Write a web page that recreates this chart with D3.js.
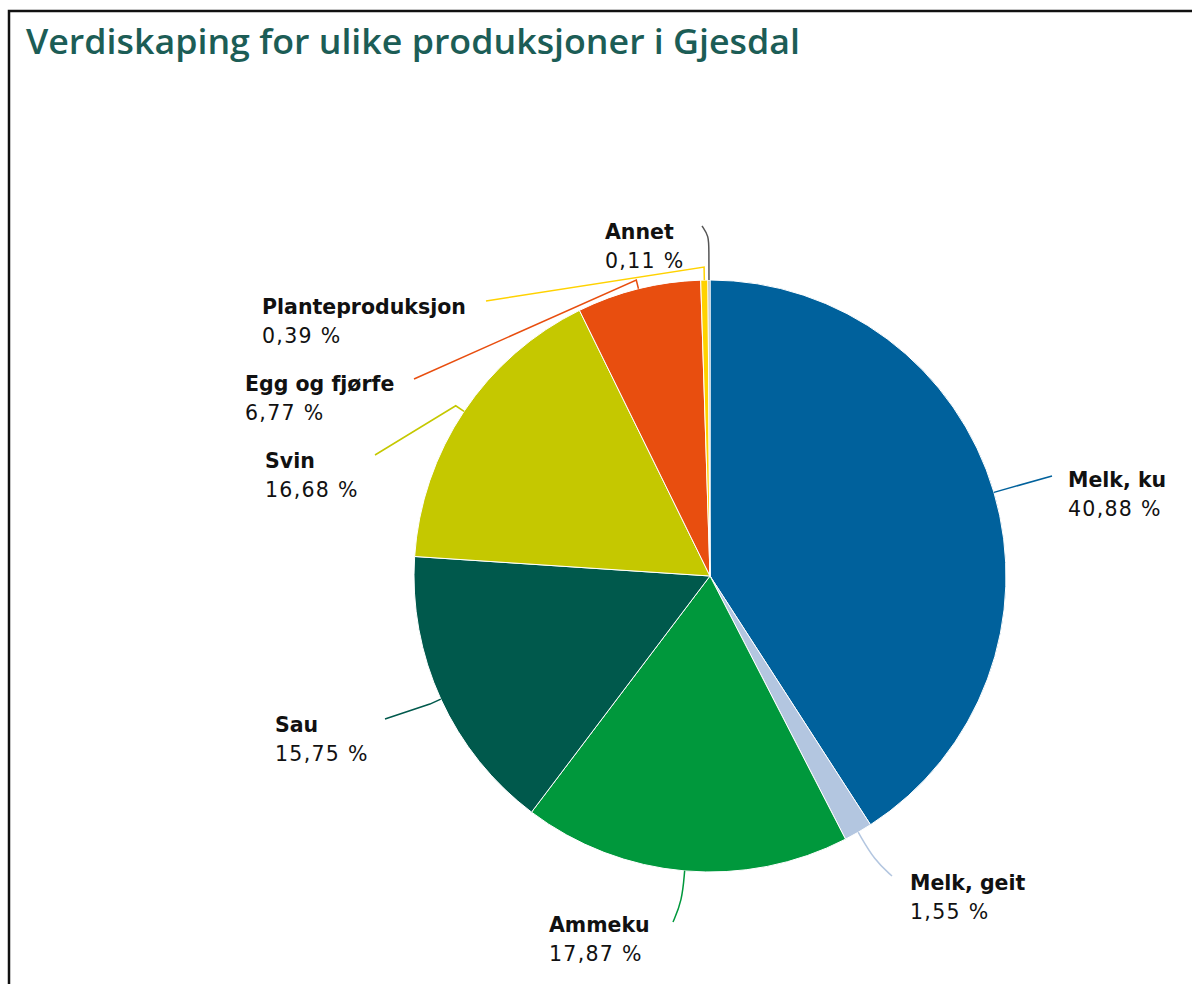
<!DOCTYPE html>
<html>
<head>
<meta charset="utf-8">
<script src="https://cdn.jsdelivr.net/npm/d3@7"></script>
<style>
  body { margin: 0; background: #fff; }
  svg { display: block; }
</style>
</head>
<body>
<div id="chart"></div>
<script>
/* Verdiskaping pie chart */

const width = 1192,
    height = 984;

/* data */
const categories = ["Melk, ku", "Melk, geit", "Ammeku", "Sau", "Svin", "Egg og fjørfe", "Planteproduksjon", "Annet"];
const values = [40.88, 1.55, 17.87, 15.75, 16.68, 6.77, 0.39, 0.11];
const colors = ["#00619c", "#b3c6e0", "#00983c", "#00594c", "#c5c800", "#e84e0f", "#ffd200", "#9a9a9a"];
const lineColors = ["#00619c", "#b3c6e0", "#00983c", "#00594c", "#c5c800", "#e84e0f", "#ffd200", "#555555"];

/* label layout: text pos, connector end, knees (extra radius), curve */
const labelPos = [
    { x: 1068, y: 487, ex: 1052, ey: 476, knees: [], curve: false },
    { x: 910, y: 890, ex: 892, ey: 876, knees: [32], curve: true },
    { x: 549, y: 932, ex: 673, ey: 922, knees: [30], curve: true },
    { x: 275, y: 732, ex: 385, ey: 719, knees: [12], curve: false },
    { x: 265, y: 468, ex: 375, ey: 455, knees: [10], curve: false },
    { x: 245, y: 391, ex: 414, ey: 379, knees: [9], curve: false },
    { x: 262, y: 314, ex: 486, ey: 301, knees: [13], curve: false },
    { x: 605, y: 239, ex: 702, ey: 226, knees: [30, 44], curve: true }
];

const cx = 710, cy = 576, r = 296;

const svg = d3.select("#chart")
    .append("svg")
    .attr("width", width)
    .attr("height", height);

/* frame */
svg.append("path")
    .attr("d", `M9,${height} V11 H${width}`)
    .attr("fill", "none")
    .attr("stroke", "#111")
    .attr("stroke-width", 2.5);

svg.append("text")
    .attr("x", 26)
    .attr("y", 54)
    .attr("font-family", "'Open Sans', Lato, sans-serif")
    .attr("font-weight", 600)
    .attr("font-size", 35)
    .attr("fill", "#1c5d56")
    .attr("textLength", 774)
    .attr("lengthAdjust", "spacingAndGlyphs")
    .text("Verdiskaping for ulike produksjoner i Gjesdal");

const pie = d3.pie().sort(null).value(d => d);
const arcs = pie(values);

const arc = d3.arc().innerRadius(0).outerRadius(r);

const g = svg.append("g").attr("transform", `translate(${cx},${cy})`);

g.selectAll("path")
    .data(arcs)
    .join("path")
    .attr("d", arc)
    .attr("fill", (d, i) => colors[i])
    .attr("stroke", "#fff")
    .attr("stroke-width", 1);

/* connectors */
const pt = (a, rad) => [cx + rad * Math.sin(a), cy - rad * Math.cos(a)];

arcs.forEach((d, i) => {
    const a = (d.startAngle + d.endAngle) / 2;
    const L = labelPos[i];
    let pts = [pt(a, r)];
    L.knees.forEach(k => pts.push(pt(a, r + k)));
    pts.push([L.ex, L.ey]);
    const line = d3.line().curve(L.curve ? d3.curveBasis : d3.curveLinear);
    svg.append("path")
        .attr("d", line(pts))
        .attr("fill", "none")
        .attr("stroke", lineColors[i])
        .attr("stroke-width", 1.5);
});

/* labels */
const fmt = v => d3.format(".2f")(v).replace(".", ",") + " %";

const labels = svg.append("g")
    .attr("font-family", "'DejaVu Sans', Verdana, sans-serif")
    .attr("fill", "#111");

categories.forEach((c, i) => {
    const L = labelPos[i];
    labels.append("text")
        .attr("x", L.x)
        .attr("y", L.y)
        .attr("font-size", 20.5)
        .attr("font-weight", "bold")
        .text(c);
    labels.append("text")
        .attr("x", L.x)
        .attr("y", L.y + 29)
        .attr("font-size", 20.5)
        .attr("letter-spacing", 1.3)
        .text(fmt(values[i]));
});
</script>
</body>
</html>
